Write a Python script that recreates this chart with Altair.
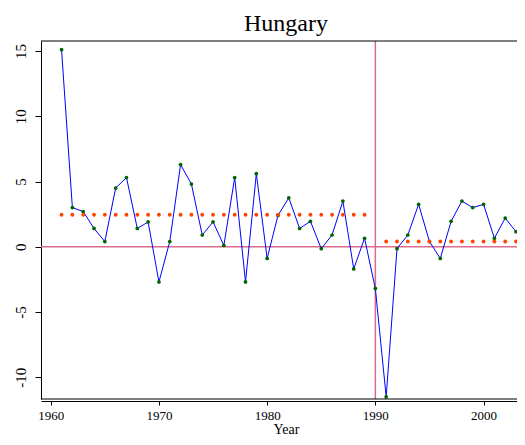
import altair as alt
import pandas as pd

# ---- data ----
years = list(range(1961, 2004))
growth = [15.1, 3.0, 2.7, 1.4, 0.4, 4.5, 5.3, 1.4, 1.9, -2.7,
          0.4, 6.3, 4.8, 0.9, 1.9, 0.1, 5.3, -2.7, 5.6, -0.9,
          2.4, 3.75, 1.4, 1.95, -0.15, 0.9, 3.5, -1.7, 0.65, -3.2,
          -11.5, -0.15, 0.9, 3.25, 0.4, -0.9, 1.95, 3.5, 3.0, 3.25,
          0.65, 2.2, 1.15]
pre_mean = 2.45    # dotted mean level 1961-1989
post_mean = 0.4    # dotted mean level 1991-2003
period_mean = [pre_mean if y < 1990 else (post_mean if y > 1990 else None) for y in years]
x_ticks = [1960, 1970, 1980, 1990, 2000]
y_ticks = [-10, -5, 0, 5, 10, 15]
break_year = [1990]
zero_line = [0]

df = pd.DataFrame({"Year": years, "growth": growth, "mean": period_mean})

FONT = "Liberation Serif"
W, H = 476, 358

xscale = alt.Scale(domain=[1959.10, 2003.09], nice=False, zero=False)
yscale = alt.Scale(domain=[-11.67, 15.77], nice=False, zero=False)

xaxis = alt.Axis(values=x_ticks, format="d", title="Year", offset=2, tickSize=4,
                 labelPadding=4, labelFont=FONT, labelFontSize=13, labelFlush=False,
                 labelOverlap=False, titleFont=FONT, titleFontSize=14,
                 titleFontWeight="normal", titleX=245, titleY=21, titleBaseline="top",
                 titleAlign="center", grid=False)
yaxis = alt.Axis(values=y_ticks, title=None, labelAngle=270, labelAlign="center",
                 labelBaseline="alphabetic", tickSize=6, labelPadding=10,
                 labelFont=FONT, labelFontSize=15, labelFlush=False,
                 labelOverlap=False, grid=False, labelExpr="'' + datum.value")

X = lambda f: alt.X(f, scale=xscale, axis=xaxis)
Y = lambda f: alt.Y(f, scale=yscale, axis=yaxis)

base = alt.Chart(df)

hline = alt.Chart(pd.DataFrame({"growth": zero_line})).mark_rule(
    color="#d96b8c", strokeWidth=1.5).encode(y=Y("growth:Q"))
vline = alt.Chart(pd.DataFrame({"Year": break_year})).mark_rule(
    color="#d96b8c", strokeWidth=1.5).encode(x=X("Year:Q"))

line = base.mark_line(color="#0000ff", strokeWidth=1).encode(x=X("Year:Q"), y=Y("growth:Q"))
pts = base.mark_circle(color="#006400", size=14, opacity=1).encode(x=X("Year:Q"), y=Y("growth:Q"))
means = base.transform_filter("isValid(datum.mean)").mark_circle(
    color="#ff4500", size=15, opacity=1).encode(x=X("Year:Q"), y=Y("mean:Q"))

frame_df = pd.DataFrame({"k": [0]})
top_frame = alt.Chart(frame_df).mark_rule(color="black", strokeWidth=1).encode(
    x=alt.value(0), x2=alt.value(W), y=alt.value(0))
bottom_frame = alt.Chart(frame_df).mark_rule(color="black", strokeWidth=1).encode(
    x=alt.value(0), x2=alt.value(W), y=alt.value(H))

chart = alt.layer(hline, vline, line, pts, means, top_frame, bottom_frame).properties(
    width=W, height=H,
    autosize=alt.AutoSizeParams(type="none"),
    padding={"left": 33, "top": 33, "right": 0, "bottom": 38},
    title=alt.Title("Hungary", font=FONT, fontSize=24, fontWeight="normal",
                    color="black", offset=4, anchor="middle", dx=7),
).configure_axis(
    labelColor="black", titleColor="black",
    domainColor="black", tickColor="black", domainWidth=1, tickWidth=1,
).configure_view(stroke=None)

chart.save("out.html", embed_options={"renderer": "svg", "actions": False})
